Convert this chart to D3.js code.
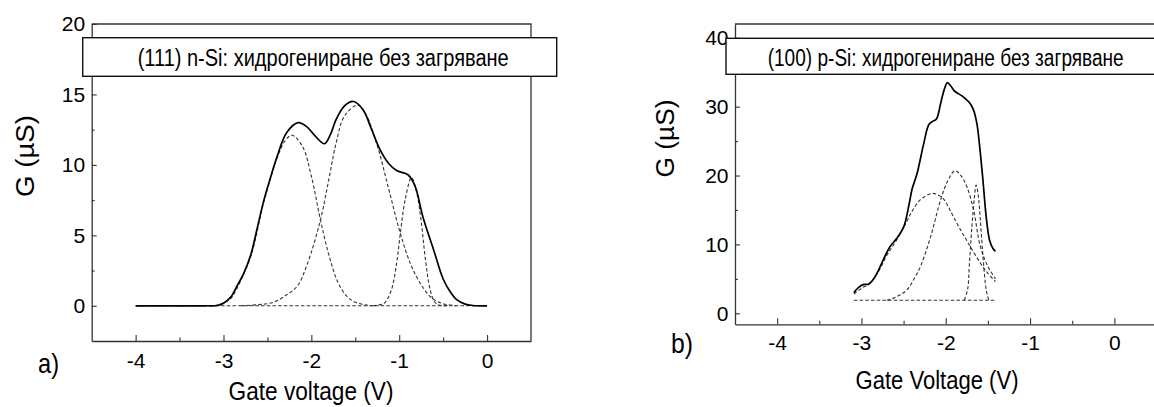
<!DOCTYPE html>
<html><head><meta charset="utf-8">
<script src="https://cdn.jsdelivr.net/npm/d3@7"></script>
<style>
html,body{margin:0;padding:0;background:#fff;}
text{font-family:"Liberation Sans",Arial,sans-serif;fill:#000;}
</style></head>
<body>
<svg id="chart" width="1154" height="407"></svg>
<script>
// ---------- data ----------
const xTicks = [-4, -3, -2, -1, 0];
const xMinorTicks = [-3.5, -2.5, -1.5, -0.5];
const leftYTicks = [0, 5, 10, 15, 20];
const leftYMinor = [2.5, 7.5, 12.5, 17.5];
const rightYTicks = [0, 10, 20, 30, 40];
const rightYMinor = [5, 15, 25, 35];

const leftTitle = "(111) n-Si: хидрогениране без загряване";
const rightTitle = "(100) p-Si: хидрогениране без загряване";

// panel a) total conductance (V, G)
const aTotal = [[-4,0],[-3.5,0],[-3.2,0],[-3.07,0.02],[-3.0,0.18],[-2.92,0.6],[-2.85,1.36],[-2.77,2.3],[-2.69,3.6],[-2.62,5.4],[-2.54,7.5],[-2.46,9.2],[-2.39,10.6],[-2.28,12.3],[-2.15,13.0],[-2.05,12.7],[-1.95,12.0],[-1.85,11.5],[-1.78,12.2],[-1.72,13.2],[-1.62,14.2],[-1.52,14.5],[-1.41,13.9],[-1.32,12.6],[-1.22,11.1],[-1.12,10.1],[-1.03,9.6],[-0.9,9.3],[-0.82,8.5],[-0.73,6.3],[-0.61,4.0],[-0.5,1.9],[-0.42,1.0],[-0.35,0.45],[-0.25,0.12],[-0.16,0.02],[0,0]];
const aPeak1 = [[-3.1,0],[-3.02,0.15],[-2.92,0.5],[-2.85,1.2],[-2.69,3.5],[-2.54,7.4],[-2.4,10.3],[-2.3,11.7],[-2.22,12.1],[-2.1,11.3],[-2.0,9.2],[-1.9,6.2],[-1.8,3.6],[-1.7,1.7],[-1.6,0.7],[-1.5,0.25],[-1.4,0.08],[-1.3,0]];
const aPeak2 = [[-2.8,0],[-2.6,0.08],[-2.43,0.25],[-2.3,0.7],[-2.16,1.4],[-2.05,2.9],[-1.9,6.0],[-1.8,9.0],[-1.72,11.5],[-1.62,13.5],[-1.47,14.25],[-1.38,13.6],[-1.26,11.6],[-1.12,8.3],[-0.99,5.2],[-0.86,2.8],[-0.73,1.3],[-0.62,0.5],[-0.5,0.15],[-0.35,0]];
const aPeak3 = [[-1.3,0],[-1.2,0.1],[-1.16,0.25],[-1.09,1.1],[-1.03,3.0],[-0.99,5.0],[-0.93,7.6],[-0.86,9.1],[-0.8,8.0],[-0.75,6.0],[-0.7,3.2],[-0.65,1.2],[-0.6,0.3],[-0.55,0.05],[-0.45,0]];
const aBase = [[-4,0],[0,0]];

// panel b)
const bTotal = [[-3.09,3.0],[-3.03,3.8],[-2.97,4.2],[-2.92,4.2],[-2.86,4.9],[-2.8,6.2],[-2.74,7.8],[-2.66,9.7],[-2.58,10.9],[-2.5,12.5],[-2.44,15.5],[-2.4,18],[-2.34,20.3],[-2.26,24.7],[-2.2,27.4],[-2.15,27.9],[-2.11,28.2],[-2.06,30.5],[-2.02,32.4],[-1.98,33.5],[-1.94,33.0],[-1.89,32.2],[-1.8,31.5],[-1.72,30.6],[-1.67,29.5],[-1.63,27.5],[-1.6,24.5],[-1.56,19.5],[-1.52,14.0],[-1.48,10.6],[-1.44,9.4],[-1.41,9.0]];
const bPeakA = [[-3.09,2.8],[-3.0,3.6],[-2.9,4.4],[-2.8,6.0],[-2.7,8.4],[-2.6,10.3],[-2.48,12.9],[-2.4,14.8],[-2.3,16.5],[-2.16,17.4],[-2.08,17.1],[-2.02,16.5],[-1.95,15.0],[-1.87,13.1],[-1.79,11.4],[-1.71,9.7],[-1.59,7.3],[-1.5,5.8],[-1.41,4.6]];
const bPeakB = [[-2.7,1.9],[-2.62,2.2],[-2.54,2.7],[-2.46,3.4],[-2.38,4.9],[-2.3,6.8],[-2.18,11.1],[-2.06,16.5],[-1.97,19.4],[-1.89,20.7],[-1.82,20.0],[-1.75,18.4],[-1.67,15.0],[-1.59,9.7],[-1.5,6.8],[-1.41,5.0]];
const bPeakC = [[-1.78,1.9],[-1.74,3.5],[-1.72,7.0],[-1.69,12.6],[-1.66,16.8],[-1.64,18.6],[-1.615,17.2],[-1.59,13.6],[-1.56,8.5],[-1.52,3.4],[-1.49,1.9]];
const bBase = [[-3.09,1.9],[-1.41,1.9]];

// ---------- drawing ----------
const svg = d3.select("#chart");
const fmt = d => String(d);

function panel(cfg) {
  const x = d3.scaleLinear().domain(cfg.xDomain).range(cfg.xRange);
  const y = d3.scaleLinear().domain(cfg.yDomain).range(cfg.yRange);
  const g = svg.append("g");
  const [x0, x1] = cfg.xRange, [yb, yt] = cfg.yRange;

  // frame (top + right)
  g.append("path")
    .attr("d", `M${x0},${yt}H${x1}V${yb}`)
    .attr("fill", "none").attr("stroke", "#333").attr("stroke-width", 1.3);

  // bottom axis
  g.append("g").attr("transform", `translate(0,${yb})`)
    .call(d3.axisBottom(x).tickValues(xTicks).tickSizeInner(-6).tickSizeOuter(0)
      .tickPadding(cfg.xPad).tickFormat(fmt));
  g.append("g").attr("transform", `translate(0,${yb})`)
    .call(d3.axisBottom(x).tickValues(xMinorTicks).tickSizeInner(-3.5).tickSizeOuter(0).tickFormat(""))
    .select(".domain").remove();
  // left axis
  g.append("g").attr("transform", `translate(${x0},0)`)
    .call(d3.axisLeft(y).tickValues(cfg.yTicks).tickSizeInner(-5).tickSizeOuter(0)
      .tickPadding(6.5).tickFormat(fmt));
  g.append("g").attr("transform", `translate(${x0},0)`)
    .call(d3.axisLeft(y).tickValues(cfg.yMinor).tickSizeInner(-3).tickSizeOuter(0).tickFormat(""))
    .select(".domain").remove();

  g.selectAll(".domain").attr("stroke", "#333").attr("stroke-width", 1.3);
  g.selectAll(".tick line").attr("stroke", "#333").attr("stroke-width", 1.1);
  g.selectAll(".tick text").style("font-family", '"Liberation Sans",Arial,sans-serif')
    .style("font-size", "21px").attr("fill", "#000");

  // curves
  const line = d3.line().x(d => x(d[0])).y(d => y(d[1])).curve(d3.curveCatmullRom.alpha(0.5));
  cfg.dashed.forEach(ds => {
    g.append("path").datum(ds).attr("d", line)
      .attr("fill", "none").attr("stroke", "#333").attr("stroke-width", 1.1)
      .attr("stroke-dasharray", "3.5,2.2");
  });
  g.append("path").datum(cfg.total).attr("d", line)
    .attr("fill", "none").attr("stroke", "#000").attr("stroke-width", 1.7);

  // legend box
  g.append("rect").attr("x", cfg.box[0]).attr("y", cfg.box[1])
    .attr("width", cfg.box[2]).attr("height", cfg.box[3])
    .attr("fill", "#fff").attr("stroke", "#111").attr("stroke-width", 1.4);
  g.append("text").attr("x", cfg.titleX).attr("y", cfg.titleY)
    .attr("textLength", cfg.titleLen).attr("lengthAdjust", "spacingAndGlyphs")
    .style("font-size", "23px").text(cfg.title);

  // axis titles
  g.append("text").attr("x", cfg.xLabelPos[0]).attr("y", cfg.xLabelPos[1])
    .attr("text-anchor", "middle").attr("textLength", cfg.xLabelLen).attr("lengthAdjust", "spacingAndGlyphs")
    .style("font-size", "26px").text(cfg.xLabel);
  g.append("text").attr("transform", `translate(${cfg.yLabelPos[0]},${cfg.yLabelPos[1]}) rotate(-90)`)
    .attr("text-anchor", "middle").attr("textLength", cfg.yLabelLen).attr("lengthAdjust", "spacingAndGlyphs")
    .style("font-size", "25px").text("G (\u00b5S)");
  g.append("text").attr("x", cfg.tagPos[0]).attr("y", cfg.tagPos[1])
    .attr("textLength", cfg.tagLen).attr("lengthAdjust", "spacingAndGlyphs")
    .style("font-size", "28px").text(cfg.tag);
}

panel({
  xDomain: [-4.5, 0.5], xRange: [91.7, 531],
  yDomain: [-2.5, 20], yRange: [341, 24],
  yTicks: leftYTicks, yMinor: leftYMinor, xPad: 12.2,
  total: aTotal, dashed: [aBase, aPeak1, aPeak2, aPeak3],
  box: [82.7, 37.7, 474, 38.6], title: leftTitle, titleX: 137.7, titleY: 66, titleLen: 371,
  xLabel: "Gate voltage (V)", xLabelPos: [311, 400], xLabelLen: 165,
  yLabelPos: [34, 156], yLabelLen: 82,
  tag: "a)", tagPos: [38, 373], tagLen: 21
});

panel({
  xDomain: [-4.5, 0.5], xRange: [735, 1156.5],
  yDomain: [-1.6, 42], yRange: [324.3, 24],
  yTicks: rightYTicks, yMinor: rightYMinor, xPad: 11,
  total: bTotal, dashed: [bBase, bPeakA, bPeakB, bPeakC],
  box: [726, 38.3, 440, 36], title: rightTitle, titleX: 767.7, titleY: 65.5, titleLen: 356,
  xLabel: "Gate Voltage (V)", xLabelPos: [937, 389], xLabelLen: 163,
  yLabelPos: [674, 138.5], yLabelLen: 78,
  tag: "b)", tagPos: [671, 353], tagLen: 22
});
</script>
</body></html>
